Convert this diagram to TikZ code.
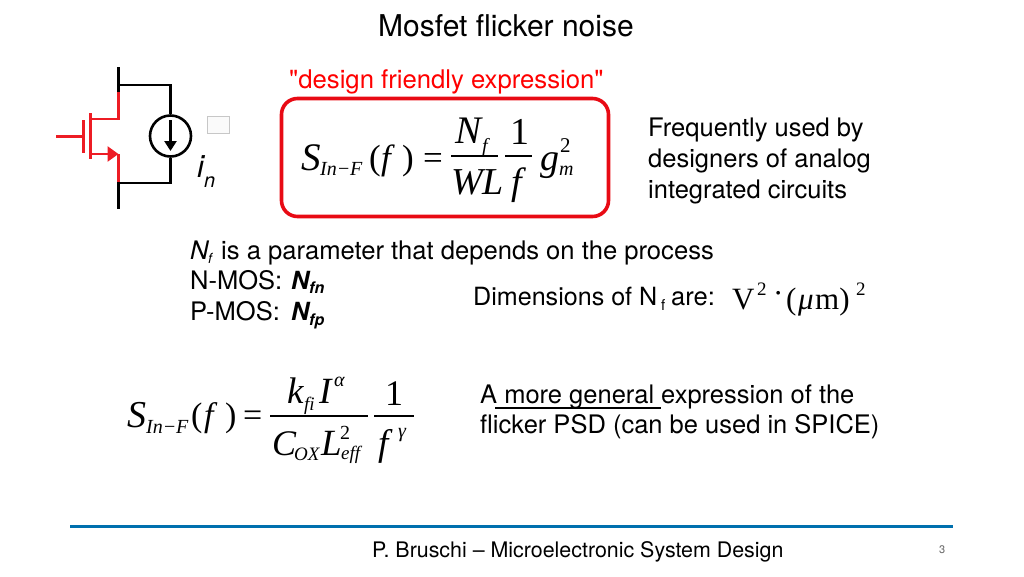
\documentclass[tikz,border=0pt]{standalone}
\usepackage{fontspec}
\setmainfont{TeX Gyre Heros}
\newfontfamily\plainsans{TeX Gyre Heros}
\newfontfamily\mathserif{Liberation Serif}
\usetikzlibrary{arrows.meta}
\definecolor{mosred}{RGB}{237,28,36}
\definecolor{boxred}{RGB}{232,10,20}
\definecolor{rulecol}{RGB}{0,112,174}
\newcommand{\fs}[1]{\fontsize{#1}{#1}\selectfont}
\tikzset{
 x=1pt,y=-1pt,
 txt/.style={anchor=base west,inner sep=0pt,font=\fs{25.5}},
 mathi/.style={anchor=base west,inner sep=0pt,font=\mathserif\itshape\fs{#1}},
 mathr/.style={anchor=base west,inner sep=0pt,font=\mathserif\fs{#1}},
 wire/.style={line width=2.6pt,black},
 redw/.style={line width=2.6pt,mosred},
 frac/.style={line width=1.3pt,black},
}
\begin{document}
\begin{tikzpicture}
\useasboundingbox (0,0) rectangle (1024,576);
% title
\node[txt,font=\fs{30}] (title) at (378,36) {Mosfet flicker noise};
\node[txt,text=red,font=\plainsans\fs{25.7}] (dfe) at (289,88) {"design friendly expression"};
% circuit
\coordinate (dtop) at (118.5,67); \coordinate (dred) at (118.5,92);
\coordinate (dj) at (118.5,85); \coordinate (sj) at (118.5,183);
\coordinate (sred) at (118.5,182); \coordinate (sbot) at (118.5,209);
\coordinate (dstub) at (118.5,119); \coordinate (sstub) at (118.5,154);
\node[circle,draw,line width=2.6pt,minimum size=41pt,inner sep=0pt] (isrc) at (170.5,136) {};
\draw[wire] (dtop) -- (dred);
\draw[wire] (sred) -- (sbot);
\draw[wire] (dj) -| (isrc.north);
\draw[wire] (sj) -| (isrc.south);
\draw[line width=2.6pt,-{Triangle[length=10pt,width=12pt]}] (170.5,120) -- (170.5,151);
\draw[redw] (dred) -- (dstub) -- (90,119);
\draw[redw] (sstub) -- (sred);
\draw[redw,line width=3pt] (90,113) -- (90,159);
\draw[redw] (83.5,120) -- (83.5,153);
\draw[redw] (56,136.5) -- (83.5,136.5);
\draw[redw,-{Triangle[length=11pt,width=15pt]}] (90,154) -- (sstub);
\node[draw=black!22,line width=1.4pt,fill=black!2,minimum width=22pt,minimum height=17pt,inner sep=0pt] (gbox) at (218.5,125) {};
\node[txt,font=\itshape\fs{31}] (iv) at (197,177) {i};
\node[txt,font=\itshape\fs{20}] (ivn) at (204,187) {n};
% red box
\node[draw=boxred,line width=3.6pt,rounded corners=16pt,minimum width=327pt,minimum height=118pt,inner sep=0pt] (redbox) at (445,157.5) {};
% eq 1
\node[mathi=39] (a1) at (301,170) {S};
\node[mathi=20] (a2) at (320,175) {In};
\node[mathr=20] (a3) at (338,175) {−};
\node[mathi=20] (a4) at (350,175) {F};
\node[mathr=35] (a5) at (369,169) {(};
\node[mathi=35] (a6) at (381,169) {f};
\node[mathr=35] (a7) at (402,169) {)};
\node[mathr=35] (a8) at (423,169) {=};
\node[mathi=39] (a9) at (455,143) {N};
\node[mathi=20] (a10) at (482,152) {f};
\draw[frac] (451,156) -- (498,156);
\node[mathi=38] (a11) at (451,194) {WL};
\node[mathr=38] (a12) at (510,144) {1};
\draw[frac] (505,156) -- (532,156);
\node[mathi=38] (a13) at (511,194) {f};
\node[mathi=38] (a14) at (540,170) {g};
\node[mathr=21] (a15) at (560,152) {2};
\node[mathi=20] (a16) at (559,175) {m};
% right text
\node[txt] (r1) at (648,136) {Frequently used by};
\node[txt] (r2) at (648,167) {designers of analog};
\node[txt] (r3) at (648,198) {integrated circuits};
% Nf
\node[txt,font=\itshape\fs{25.5}] (n1) at (190,259) {N};
\node[txt,font=\itshape\fs{14}] (n2) at (208,263) {f};
\node[txt,font=\fs{25.6}] (n3) at (221,259) {is a parameter that depends on the process};
\node[txt] (n4) at (190,289) {N-MOS:};
\node[txt,font=\bfseries\itshape\fs{25}] (n5) at (291,289) {N};
\node[txt,font=\bfseries\itshape\fs{16}] (n6) at (309,293) {fn};
\node[txt] (n7) at (190,320) {P-MOS:};
\node[txt,font=\bfseries\itshape\fs{25}] (n8) at (291,320) {N};
\node[txt,font=\bfseries\itshape\fs{16}] (n9) at (309,325) {fp};
% dims
\node[txt,font=\fs{25.1}] (d1) at (473,305) {Dimensions of N};
\node[txt,font=\fs{15}] (d2) at (661,310) {f};
\node[txt] (d3) at (671,305) {are:};
\node[mathr=31] (d4) at (732,309) {V};
\node[mathr=19] (d5) at (757,295) {2};
\node[mathr=31] (d6) at (773,303) {·};
\node[mathr=31] (d7) at (786,309) {(};
\node[mathi=31] (d8) at (798,309) {μ};
\node[mathr=31] (d9) at (815,309) {m)};
\node[mathr=19] (d10) at (856,295) {2};
% eq 2
\node[mathi=38] (b1) at (127,427) {S};
\node[mathi=20] (b2) at (146,433) {In};
\node[mathr=20] (b3) at (164,433) {−};
\node[mathi=20] (b4) at (176,433) {F};
\node[mathr=34] (b5) at (191,426) {(};
\node[mathi=34] (b6) at (204,426) {f};
\node[mathr=34] (b7) at (225,426) {)};
\node[mathr=34] (b8) at (243,426) {=};
\node[mathi=37] (b9) at (287,403) {k};
\node[mathi=19] (b10) at (304,410) {fi};
\node[mathi=37] (b11) at (319,403) {I};
\node[mathi=20] (b12) at (334,386) {α};
\draw[frac] (270,416) -- (368,416);
\node[mathi=36] (b13) at (272,455) {C};
\node[mathi=19] (b14) at (294,460) {OX};
\node[mathi=37] (b15) at (321,455) {L};
\node[mathr=20] (b16) at (340,439) {2};
\node[mathi=19] (b17) at (341,459) {eff};
\node[mathr=36] (b18) at (385,405) {1};
\draw[frac] (374,416) -- (414,416);
\node[mathi=37] (b19) at (378,455) {f};
\node[mathi=20] (b20) at (398,437) {γ};
% general
\node[txt] (g1) at (480,403) {A more general expression of the};
\node[txt] (g2) at (480,433) {flicker PSD (can be used in SPICE)};
\draw[line width=1.4pt] (495,408) -- (661,408);
% footer
\draw[rulecol,line width=3pt] (70,526) -- (953,526);
\node[txt,font=\fs{21.4}] (foot) at (372,557) {P. Bruschi – Microelectronic System Design};
\node[txt,font=\fs{11},text=black!60] (pg) at (939,553) {3};
\end{tikzpicture}
\end{document}
